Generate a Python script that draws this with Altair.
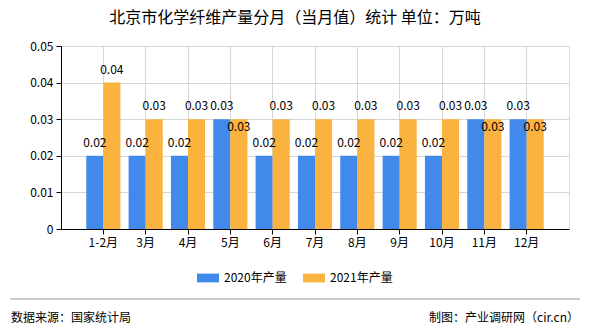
import altair as alt
import pandas as pd

months = ["1-2月", "3月", "4月", "5月", "6月", "7月", "8月", "9月", "10月", "11月", "12月"]
v2020 = [0.02, 0.02, 0.02, 0.03, 0.02, 0.02, 0.02, 0.02, 0.02, 0.03, 0.03]
v2021 = [0.04, 0.03, 0.03, 0.03, 0.03, 0.03, 0.03, 0.03, 0.03, 0.03, 0.03]
series = ["2020年产量", "2021年产量"]
colors = ["#418AEB", "#FAB33F"]
y_ticks = [0, 0.01, 0.02, 0.03, 0.04, 0.05]
source_text = "数据来源：国家统计局"
credit_text = "制图：产业调研网（cir.cn）"
title_text = "北京市化学纤维产量分月（当月值）统计 单位：万吨"

rows = []
for m, a, b in zip(months, v2020, v2021):
    rows.append({"month": m, "series": series[0], "value": a, "collide": False})
    rows.append({"month": m, "series": series[1], "value": b, "collide": a == b})
df = pd.DataFrame(rows)
one = pd.DataFrame({"left": [source_text], "right": [credit_text]})

FONT = "Noto Sans CJK SC"
GRID = "#d6d6d6"

x = alt.X("month:N", sort=months, title=None,
          scale=alt.Scale(paddingInner=0, paddingOuter=0.5),
          axis=alt.Axis(labelAngle=0, bandPosition=0.5, grid=True, gridColor=GRID,
                        domainColor="#000", tickColor="#000", tickSize=5,
                        labelFont=FONT, labelFontSize=12, labelColor="#000", labelPadding=3))
xo = alt.XOffset("series:N", sort=series,
                 scale=alt.Scale(paddingInner=0, paddingOuter=0.24))
y = alt.Y("value:Q", title=None,
          scale=alt.Scale(domain=[0, 0.05], nice=False),
          axis=alt.Axis(values=y_ticks, grid=True, gridColor=GRID, labelOverlap=False,
                        domainColor="#000", tickColor="#000", tickSize=5,
                        labelExpr="datum.value == 0 ? '0' : format(datum.value, '.2f')",
                        labelFont=FONT, labelFontSize=12, labelColor="#000", labelPadding=3))

bars = alt.Chart(df).mark_bar().encode(
    x=x, xOffset=xo, y=y,
    color=alt.Color("series:N", sort=series,
                    scale=alt.Scale(domain=series, range=colors),
                    legend=alt.Legend(orient="none", direction="horizontal", title=None,
                                      legendX=136, legendY=221, padding=0,
                                      symbolType="M-1,-0.4H1V0.4H-1Z", symbolSize=484,
                                      symbolStrokeWidth=0, labelOffset=5, columnPadding=16,
                                      labelFont=FONT, labelFontSize=12, labelColor="#000")),
)

labels_top = alt.Chart(df).transform_filter("!datum.collide").mark_text(
    baseline="middle", dy=-13, font=FONT, fontSize=12, color="#000"
).encode(x=x, xOffset=xo, y=y, text=alt.Text("value:Q", format=".2f"))

labels_in = alt.Chart(df).transform_filter("datum.collide").mark_text(
    baseline="middle", dy=8, font=FONT, fontSize=12, color="#000"
).encode(x=x, xOffset=xo, y=y, text=alt.Text("value:Q", format=".2f"))

footer_line = alt.Chart(one).mark_rule(color="#999", strokeWidth=1, clip=False).encode(
    x=alt.value(-51), x2=alt.value(519), y=alt.value(253))
footer_left = alt.Chart(one).mark_text(align="left", baseline="middle", font=FONT, fontSize=12,
                                       color="#000", clip=False).encode(
    x=alt.value(-50), y=alt.value(272), text="left:N")
footer_right = alt.Chart(one).mark_text(align="right", baseline="middle", font=FONT, fontSize=12,
                                        color="#000", clip=False).encode(
    x=alt.value(518), y=alt.value(272), text="right:N")

chart = alt.layer(bars, labels_top, labels_in, footer_line, footer_left, footer_right).properties(
    width=508, height=183,
    autosize=alt.AutoSizeParams(type="none"),
    padding={"left": 61, "top": 46, "right": 21, "bottom": 101},
    title=alt.Title(title_text, anchor="middle",
                    frame="group", dx=-20, offset=14, fontSize=16, fontWeight="normal",
                    font=FONT, color="#000"),
).configure_view(stroke=GRID).configure(background="white")

chart.save("out.html", embed_options={"renderer": "svg", "actions": False})
